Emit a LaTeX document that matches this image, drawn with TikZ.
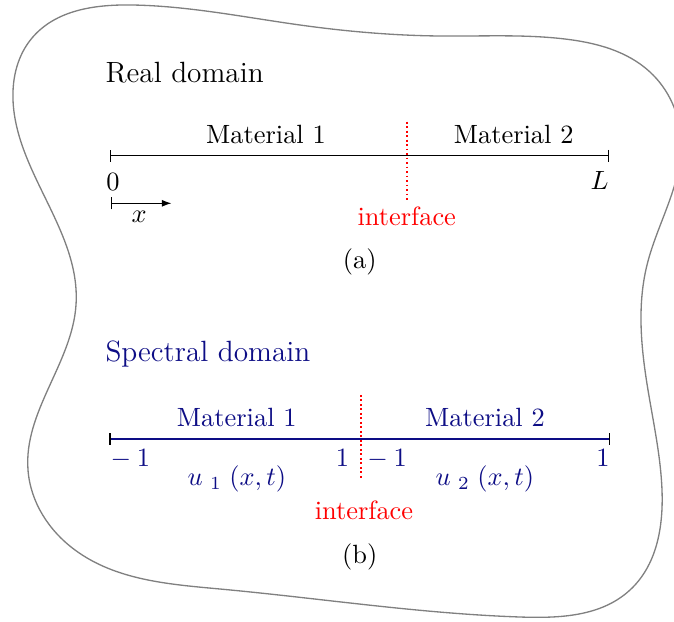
\documentclass[tikz,border=0pt]{standalone}
\usetikzlibrary{arrows.meta,hobby}
\definecolor{specblue}{rgb}{0.05,0.05,0.52}
\begin{document}
\begin{tikzpicture}[x=0.3788pt,y=-0.3788pt,
  lbl/.style={inner sep=0pt, anchor=base},
  lblw/.style={inner sep=0pt, anchor=base west},
  lble/.style={inner sep=0pt, anchor=base east},
  titletxt/.style={inner sep=0pt, anchor=base west, font=\fontsize{11.1pt}{13pt}\selectfont},
  blobline/.style={draw=gray, line width=0.5pt},
  axisline/.style={line width=0.45pt},
  ifline/.style={red, densely dotted, line width=0.7pt},
  tick/.style={black, line width=0.45pt},
  bluetxt/.style={text=specblue}]
\useasboundingbox (0,0) rectangle (674,621);
\begin{scope}
\clip (0,0) rectangle (674,621);
\draw[blobline] plot[closed hobby] coordinates {
 (32,38) (133,5) (300,25) (440,36) (565,39) (650,72) (681,140)
 (647,265) (648,390) (662,490) (630,590) (520,617) (387,607) (220,589)
 (75,550) (28,470) (76,305) (13,100)};
\end{scope}

% ---------- (a) real domain ----------
\node[titletxt] (realtitle) at (105,82.3) {Real domain};
\coordinate (aleft) at (110,155.7);
\coordinate (aright) at (609.3,155.7);
\draw[axisline, {Bar[width=4.5pt]}-{Bar[width=4.5pt]}] (aleft) -- (aright);
\coordinate (aiftop) at (406.7,121.7);
\coordinate (aifbot) at (406.7,200);
\draw[ifline] (aiftop) -- (aifbot);
\node[lbl] (amat1) at (266,143.3) {Material 1};
\node[lbl] (amat2) at (513.7,143.3) {Material 2};
\node[lbl] (azero) at (113,190) {0};
\node[lbl] (aL) at (599.7,189) {$L$};
\coordinate (xstart) at (110.7,203.3);
\coordinate (xend) at (171.5,203.3);
\draw[axisline, {Bar[width=4.5pt]}-{Latex[length=3.6pt,width=2.6pt]}] (xstart) -- (xend);
\node[lbl] (xlabel) at (139.2,222.5) {$x$};
\node[lbl, text=red] (aiftext) at (406.8,225) {interface};
\node[lbl] (acap) at (359.7,268) {(a)};

% ---------- (b) spectral domain ----------
\node[titletxt, bluetxt] (spectitle) at (105,361.7) {Spectral domain};
\coordinate (bleft) at (110,439);
\coordinate (bright) at (609.3,439);
\draw[axisline, specblue] (bleft) -- (bright);
\draw[tick] (bleft) ++(0,-6) -- ++(0,12);
\draw[tick] (bright) ++(0,-6) -- ++(0,12);
\coordinate (biftop) at (361,395);
\coordinate (bifbot) at (361,480);
\draw[ifline] (biftop) -- (bifbot);
\node[lbl, bluetxt] (bmat1) at (236.8,426) {Material 1};
\node[lbl, bluetxt] (bmat2) at (485,426) {Material 2};
\node[lblw, bluetxt] (bm1a) at (110,466) {$-\:1$};
\node[lble, bluetxt] (bp1a) at (349.5,466) {$1$};
\node[lblw, bluetxt] (bm1b) at (366.8,466) {$-\:1$};
\node[lble, bluetxt] (bp1b) at (610,466) {$1$};
\node[lbl, bluetxt] (bu1) at (237,485.5) {$u\;_{1}\;(x,t)$};
\node[lbl, bluetxt] (bu2) at (485,485.5) {$u\;_{2}\;(x,t)$};
\node[lbl, text=red] (biftext) at (364,519) {interface};
\node[lbl] (bcap) at (359.7,563.6) {(b)};
\end{tikzpicture}
\end{document}
